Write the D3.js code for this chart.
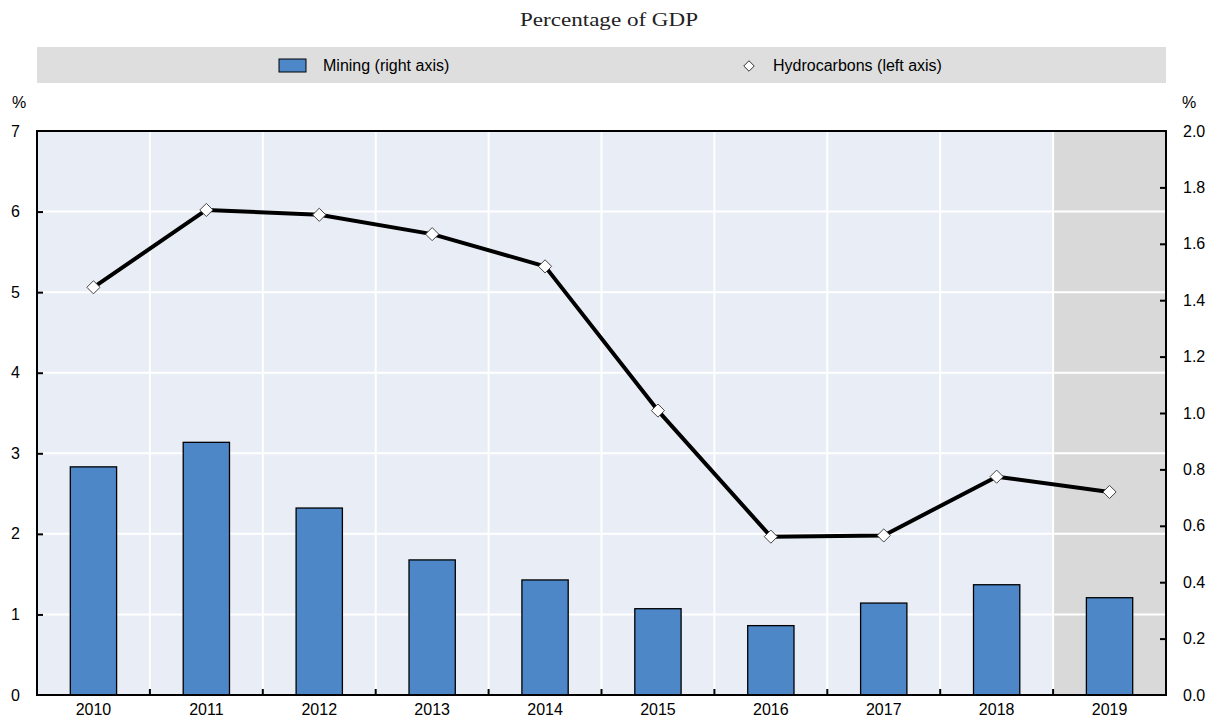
<!DOCTYPE html>
<html><head><meta charset="utf-8">
<script src="https://cdn.jsdelivr.net/npm/d3@7"></script>
<style>
body{margin:0;background:#fff;}
svg{display:block;}
.lab{font-family:"Liberation Sans",Arial,sans-serif;font-size:16px;fill:#000;}
.sub{font-family:"Liberation Serif","Times New Roman",serif;font-size:19px;fill:#222;}
</style></head>
<body>
<svg id="c" width="1214" height="720"></svg>
<script>
const years = ["2010","2011","2012","2013","2014","2015","2016","2017","2018","2019"];
const mining = [0.809,0.896,0.663,0.479,0.408,0.306,0.246,0.326,0.391,0.345];
const hydrocarbons = [5.06,6.02,5.96,5.72,5.32,3.53,1.965,1.98,2.71,2.52];
const leftTicks = [0,1,2,3,4,5,6,7];
const rightTicks = [0,0.2,0.4,0.6,0.8,1.0,1.2,1.4,1.6,1.8,2.0];
const shadedYears = ["2019"];
const subtitle = "Percentage of GDP";
const legendLabels = ["Mining (right axis)","Hydrocarbons (left axis)"];

const svg = d3.select("#c");
const L=37, R=1166, T=131, B=695;

const x = d3.scaleBand().domain(years).range([L,R]).paddingInner(0).paddingOuter(0);
const yL = d3.scaleLinear().domain([0,7]).range([B,T]);
const yR = d3.scaleLinear().domain([0,2]).range([B,T]);

// subtitle
svg.append("text").attr("class","sub").attr("x",520).attr("y",26)
  .attr("textLength",178).attr("lengthAdjust","spacingAndGlyphs").text(subtitle);

// legend
svg.append("rect").attr("x",L).attr("y",47).attr("width",R-L).attr("height",36).attr("fill","#dedede");
svg.append("rect").attr("x",279).attr("y",59).attr("width",27).attr("height",13).attr("fill","#4d87c7").attr("stroke","#000").attr("stroke-width",1);
svg.append("text").attr("class","lab").attr("x",323).attr("y",71).text(legendLabels[0]);
svg.append("path").attr("d",d3.symbol(d3.symbolDiamond2,70)()).attr("transform","translate(749,66)")
  .attr("fill","#fff").attr("stroke","#333").attr("stroke-width",1);
svg.append("text").attr("class","lab").attr("x",773).attr("y",71).text(legendLabels[1]);

// plot bg
svg.append("rect").attr("x",L).attr("y",T).attr("width",R-L).attr("height",B-T).attr("fill","#e9edf6");
svg.selectAll("rect.shade").data(shadedYears).join("rect").attr("class","shade")
  .attr("x",d=>x(d)).attr("y",T).attr("width",x.bandwidth()).attr("height",B-T).attr("fill","#d9d9d9");

// grid
const g = svg.append("g");
g.selectAll("line.hg").data(leftTicks.slice(1,-1)).join("line").attr("class","hg")
  .attr("x1",L).attr("x2",R).attr("y1",d=>yL(d)).attr("y2",d=>yL(d)).attr("stroke","#fff").attr("stroke-width",2);
g.selectAll("line.vg").data(years.slice(1)).join("line").attr("class","vg")
  .attr("x1",d=>x(d)).attr("x2",d=>x(d)).attr("y1",T).attr("y2",B).attr("stroke","#fff").attr("stroke-width",2);

// bars
const bw = x.bandwidth()*0.41;
svg.selectAll("rect.bar").data(years).join("rect").attr("class","bar")
  .attr("x",(d)=>x(d)+x.bandwidth()/2-bw/2).attr("width",bw)
  .attr("y",(d,i)=>yR(mining[i])).attr("height",(d,i)=>B-yR(mining[i]))
  .attr("fill","#4d87c7").attr("stroke","#000").attr("stroke-width",1.3);

// line
const pts = years.map((d,i)=>[x(d)+x.bandwidth()/2, yL(hydrocarbons[i])]);
svg.append("path").attr("d",d3.line()(pts)).attr("fill","none").attr("stroke","#000").attr("stroke-width",4).attr("stroke-linejoin","round");
svg.selectAll("path.mk").data(pts).join("path").attr("class","mk")
  .attr("d",d3.symbol(d3.symbolDiamond2,110)()).attr("transform",d=>`translate(${d[0]},${d[1]})`)
  .attr("fill","#fff").attr("stroke","#444").attr("stroke-width",1);

// axes
const axL = svg.append("g").attr("transform",`translate(${L},0)`)
  .call(d3.axisLeft(yL).tickValues(leftTicks).tickSize(-6).tickPadding(17).tickFormat(d3.format("d")));
const axR = svg.append("g").attr("transform",`translate(${R},0)`)
  .call(d3.axisRight(yR).tickValues(rightTicks).tickSize(-6).tickPadding(17).tickFormat(d3.format(".1f")));
const axB = svg.append("g").attr("transform",`translate(0,${B})`)
  .call(d3.axisBottom(x).tickSize(0).tickPadding(9));
[axL,axR,axB].forEach(a=>{
  a.select(".domain").remove();
  a.attr("font-family",null).attr("font-size",null);
  a.selectAll("text").attr("class","lab");
  a.selectAll("line").attr("stroke","#000").attr("stroke-width",2);
});
axL.selectAll(".tick").filter(d=>d===0||d===7).select("line").remove();
axR.selectAll(".tick").filter(d=>d===0||d===2).select("line").remove();
// bottom boundary ticks
svg.selectAll("line.bt").data(years.slice(1)).join("line").attr("class","bt")
  .attr("x1",d=>x(d)).attr("x2",d=>x(d)).attr("y1",B).attr("y2",B-6).attr("stroke","#000").attr("stroke-width",2);

// frame
svg.append("rect").attr("x",L).attr("y",T).attr("width",R-L).attr("height",B-T).attr("fill","none").attr("stroke","#000").attr("stroke-width",2);

// % labels
svg.append("text").attr("class","lab").attr("x",12).attr("y",108).text("%");
svg.append("text").attr("class","lab").attr("x",1182).attr("y",108).text("%");
</script>
</body></html>
